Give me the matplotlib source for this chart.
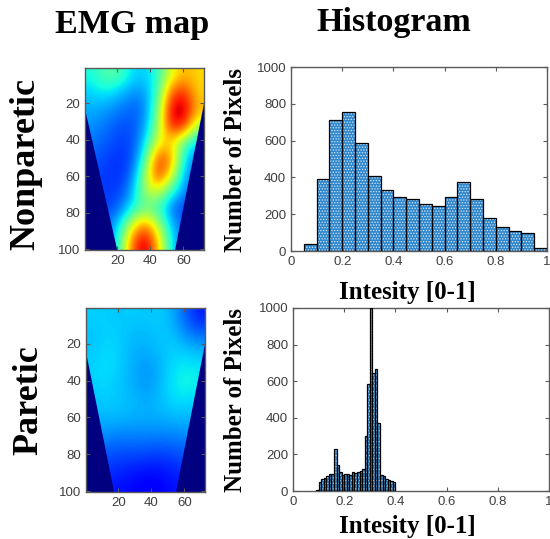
import matplotlib.pyplot as plt
import numpy as np

# EMG maps: coarse grid, jet scale 0-1
# rows go from top (y~0) to bottom (y~100), columns from x~0 to x~72
nonparetic_map = [
    [0.38, 0.45, 0.45, 0.35, 0.32, 0.40, 0.62, 0.72, 0.68],
    [0.33, 0.36, 0.32, 0.27, 0.27, 0.42, 0.82, 0.88, 0.68],
    [0.30, 0.28, 0.25, 0.22, 0.24, 0.48, 0.93, 0.96, 0.72],
    [0.27, 0.24, 0.21, 0.20, 0.27, 0.52, 0.90, 0.88, 0.55],
    [0.24, 0.22, 0.19, 0.19, 0.32, 0.62, 0.68, 0.45, 0.32],
    [0.22, 0.19, 0.17, 0.19, 0.40, 0.86, 0.78, 0.35, 0.24],
    [0.20, 0.18, 0.17, 0.22, 0.52, 0.88, 0.64, 0.30, 0.22],
    [0.20, 0.18, 0.18, 0.28, 0.54, 0.60, 0.40, 0.26, 0.20],
    [0.20, 0.19, 0.22, 0.36, 0.46, 0.42, 0.24, 0.18, 0.18],
    [0.20, 0.22, 0.32, 0.60, 0.80, 0.58, 0.32, 0.22, 0.20],
    [0.20, 0.22, 0.38, 0.78, 0.97, 0.72, 0.36, 0.22, 0.20],
]
paretic_map = [
    [0.33, 0.33, 0.32, 0.33, 0.32, 0.33, 0.30, 0.22, 0.15],
    [0.32, 0.33, 0.33, 0.31, 0.31, 0.32, 0.32, 0.26, 0.22],
    [0.32, 0.34, 0.33, 0.30, 0.30, 0.31, 0.33, 0.32, 0.30],
    [0.33, 0.35, 0.33, 0.30, 0.27, 0.30, 0.34, 0.36, 0.35],
    [0.33, 0.34, 0.32, 0.30, 0.27, 0.30, 0.35, 0.38, 0.36],
    [0.32, 0.33, 0.32, 0.31, 0.29, 0.31, 0.34, 0.35, 0.33],
    [0.30, 0.31, 0.31, 0.30, 0.30, 0.30, 0.31, 0.31, 0.30],
    [0.27, 0.27, 0.26, 0.26, 0.26, 0.26, 0.26, 0.27, 0.27],
    [0.22, 0.22, 0.21, 0.21, 0.21, 0.20, 0.21, 0.22, 0.22],
    [0.18, 0.18, 0.17, 0.16, 0.15, 0.15, 0.16, 0.18, 0.18],
    [0.15, 0.15, 0.14, 0.13, 0.12, 0.12, 0.14, 0.15, 0.15],
]
# electrode grid outline (outside is empty): (x at top, y at top) -> (x at bottom, y at bottom)
nonparetic_left_edge  = [(0.5, 23.0), (20.0, 100.5)]
nonparetic_right_edge = [(72.5, 20.0), (55.0, 100.5)]
paretic_left_edge     = [(0.5, 24.5), (17.5, 100.5)]
paretic_right_edge    = [(72.5, 20.0), (55.0, 100.5)]

# histograms
nonparetic_edges  = np.linspace(0.05, 1.0, 20)
nonparetic_counts = [38, 393, 711, 754, 587, 410, 332, 291, 280, 256,
                     245, 292, 374, 280, 179, 132, 108, 99, 18]
paretic_edges  = np.linspace(0.09, 0.40, 32)
paretic_counts = [8, 48, 63, 72, 80, 92, 95, 232, 140, 105,
                  88, 95, 92, 88, 105, 100, 105, 112, 118, 300,
                  585, 1000, 645, 668, 370, 90, 82, 65, 60, 55, 50]

map_xticks  = [20, 40, 60]
map_yticks  = [20, 40, 60, 80, 100]
hist_xticks = [0, 0.2, 0.4, 0.6, 0.8, 1]
hist_xlabels = ['0', '0.2', '0.4', '0.6', '0.8', '1']
hist_yticks = [0, 200, 400, 600, 800, 1000]

W, H = 550, 539
fig = plt.figure(figsize=(W / 100, H / 100), dpi=100)

def px(x0, y0, x1, y1):
    return [x0 / W, 1 - y1 / H, (x1 - x0) / W, (y1 - y0) / H]

tick_color = '#3f3f3f'
spine_color = '#5a5a5a'
navy = plt.get_cmap('jet')(0.0)

def style(ax):
    for s in ax.spines.values():
        s.set_color(spine_color)
        s.set_linewidth(1.0)
    ax.tick_params(direction='in', length=3, width=0.8, color=spine_color,
                   top=True, right=True, labelsize=9.5, labelcolor=tick_color)
    for lab in ax.get_xticklabels() + ax.get_yticklabels():
        lab.set_family('Liberation Sans')

def draw_map(rect, grid, left_edge, right_edge):
    ax = fig.add_axes(rect)
    ax.imshow(np.array(grid), cmap='jet', vmin=0, vmax=1, interpolation='bicubic',
              extent=(0.5, 72.5, 100.5, 0.5), aspect='auto')
    (lx0, ly0), (lx1, ly1) = left_edge
    (rx0, ry0), (rx1, ry1) = right_edge
    ax.fill([lx0, lx1, 0.5], [ly0, ly1, 100.5], color=navy, lw=0)
    ax.fill([rx0, rx1, 72.5], [ry0, ry1, 100.5], color=navy, lw=0)
    ax.set_xlim(0.5, 72.5)
    ax.set_ylim(100.5, 0.5)
    ax.set_xticks(map_xticks)
    ax.set_yticks(map_yticks)
    style(ax)
    return ax

def draw_hist(rect, edges, counts):
    ax = fig.add_axes(rect)
    left = edges[:-1]
    width = np.diff(edges)
    ax.bar(left, counts, width=width, align='edge', color='#2f86cc',
           edgecolor='#d8ecfa', hatch='......', linewidth=0, zorder=2)
    ax.bar(left, counts, width=width, align='edge', fill=False,
           edgecolor='black', linewidth=0.9, zorder=3)
    ax.set_xlim(0, 1)
    ax.set_ylim(0, 1000)
    ax.set_xticks(hist_xticks, hist_xlabels)
    ax.set_yticks(hist_yticks)
    style(ax)
    return ax

plt.rcParams['hatch.linewidth'] = 0.6

draw_map(px(85, 68, 204, 250), nonparetic_map, nonparetic_left_edge, nonparetic_right_edge)
draw_hist(px(291, 67, 547, 251), nonparetic_edges, nonparetic_counts)
draw_map(px(86, 308, 205, 492), paretic_map, paretic_left_edge, paretic_right_edge)
draw_hist(px(293, 308, 549, 491), paretic_edges, paretic_counts)

serif = 'Liberation Serif'
def label(x, y, s, size, rot=0):
    fig.text(x / W, 1 - y / H, s, family=serif, weight='bold', size=size,
             rotation=rot, ha='center', va='center')

label(132, 24, 'EMG map', 24.5)
label(394, 23, 'Histogram', 24.5)
label(26, 164, 'Nonparetic', 26, 90)
label(29, 400, 'Paretic', 26, 90)
label(236, 160, 'Number of Pixels', 18, 90)
label(236, 400, 'Number of Pixels', 18, 90)
label(407, 293, 'Intesity [0-1]', 18)
label(407, 526, 'Intesity [0-1]', 18)

fig.savefig('out.png', dpi=100)
